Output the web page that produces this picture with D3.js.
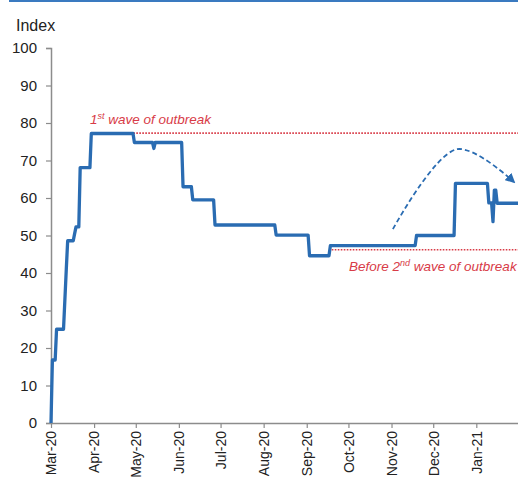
<!DOCTYPE html>
<html>
<head>
<meta charset="utf-8">
<script src="https://cdn.jsdelivr.net/npm/d3@7"></script>
<style>
  html, body { margin: 0; padding: 0; background: #fff; }
  svg { display: block; font-family: "Liberation Sans", Arial, sans-serif; }
</style>
</head>
<body>
<svg id="chart" width="518" height="483"></svg>
<script>
// Stringency index: dates where the daily level changes, and the level from that date on
const dates = [
  "2020-03-01","2020-03-02","2020-03-05","2020-03-11","2020-03-12","2020-03-13","2020-03-14",
  "2020-03-18","2020-03-19","2020-03-22","2020-03-30","2020-04-30","2020-05-14","2020-05-15",
  "2020-06-04","2020-06-11","2020-06-27","2020-08-10","2020-09-03","2020-09-18","2020-11-19",
  "2020-12-17","2021-01-10","2021-01-13","2021-01-14","2021-01-16","2021-01-31"
];
const values = [
  0, 16.8, 25.0, 33.0, 41.0, 48.6, 48.6,
  50.5, 52.3, 68.1, 77.2, 74.8, 73.2, 74.8,
  63.0, 59.5, 52.8, 50.1, 44.6, 47.3, 50.0,
  63.9, 58.7, 53.7, 62.1, 58.6, 58.6
];

// Reference levels
const firstWaveLevel = 77.3;
const firstWaveLabel = ["1", "st", " wave of outbreak"];
const secondWaveLevel = 46.2;
const secondWaveLabel = ["Before 2", "nd", " wave of outbreak"];
const firstWaveStart = "2020-03-30";
const secondWaveStart = "2020-09-19";

// Axis ticks
const yTicks = [0, 10, 20, 30, 40, 50, 60, 70, 80, 90, 100];
const xTickDates = ["2020-03-01","2020-04-01","2020-05-01","2020-06-01","2020-07-01","2020-08-01",
                    "2020-09-01","2020-10-01","2020-11-01","2020-12-01","2021-01-01"];

// Trend arrow: start, crest, end (date, index level)
const arrowDates = ["2020-11-02", "2020-12-18", "2021-01-28"];
const arrowValues = [51.7, 73.0, 64.3];

const parse = d3.timeParse("%Y-%m-%d");
const fmt = d3.timeFormat("%b-%y");

// Expand the change points into a daily path: a level holds until the day
// before the next change, then moves to the new level over one day.
const series = [];
dates.forEach((d, i) => {
  const date = parse(d);
  if (i > 0) {
    const dayBefore = d3.timeDay.offset(date, -1);
    if (dayBefore > series[series.length - 1].date) {
      series.push({ date: dayBefore, value: values[i - 1] });
    }
  }
  series.push({ date, value: values[i] });
});

const svg = d3.select("#chart");
const W = 518, H = 483;
const margin = { top: 48, right: 0, bottom: 60, left: 51 };

const x = d3.scaleTime()
  .domain([parse("2020-03-01"), parse("2021-01-31")])
  .range([margin.left, W - margin.right]);
const y = d3.scaleLinear()
  .domain([0, 100])
  .range([H - margin.bottom, margin.top]);

const blue = "#2a6cb2";
const red = "#d83b47";
const axisGrey = "#8c8c8c";

// Top rule
svg.append("rect").attr("x", 9).attr("y", 0).attr("width", W - 9).attr("height", 2).attr("fill", "#3a7ac0");

// Y axis
const yAxis = svg.append("g")
  .attr("transform", `translate(${margin.left},0)`)
  .call(d3.axisLeft(y).tickValues(yTicks).tickSize(5).tickPadding(9));
yAxis.select(".domain").attr("stroke", axisGrey).attr("stroke-width", 1.5);
yAxis.selectAll(".tick line").attr("stroke", axisGrey).attr("stroke-width", 1.2);
yAxis.selectAll(".tick text").attr("font-size", 15).attr("fill", "#222")
  .attr("font-family", "Liberation Sans, Arial, sans-serif");

// X axis
const xAxis = svg.append("g")
  .attr("transform", `translate(0,${H - margin.bottom})`)
  .call(d3.axisBottom(x).tickValues(xTickDates.map(parse)).tickFormat(fmt).tickSize(5).tickSizeOuter(0));
xAxis.select(".domain").attr("stroke", axisGrey).attr("stroke-width", 1.5);
xAxis.selectAll(".tick line").attr("stroke", axisGrey).attr("stroke-width", 1.2);
xAxis.selectAll(".tick text")
  .attr("font-size", 14).attr("fill", "#222")
  .attr("font-family", "Liberation Sans, Arial, sans-serif")
  .attr("transform", "rotate(-90)")
  .attr("text-anchor", "end")
  .attr("x", -8).attr("y", 0).attr("dy", "0.35em");

// Axis title
svg.append("text").attr("x", 16).attr("y", 31).attr("font-size", 16).attr("fill", "#222").text("Index");

// Reference lines
svg.append("line")
  .attr("x1", x(parse(firstWaveStart))).attr("x2", W)
  .attr("y1", y(firstWaveLevel)).attr("y2", y(firstWaveLevel))
  .attr("stroke", red).attr("stroke-width", 1.6).attr("stroke-dasharray", "1.6,1.4");
svg.append("line")
  .attr("x1", x(parse(secondWaveStart))).attr("x2", W)
  .attr("y1", y(secondWaveLevel)).attr("y2", y(secondWaveLevel))
  .attr("stroke", red).attr("stroke-width", 1.6).attr("stroke-dasharray", "1.6,1.4");

function supLabel(tx, ty, parts) {
  const t = svg.append("text").attr("x", tx).attr("y", ty)
    .attr("font-size", 13.5).attr("font-style", "italic").attr("fill", red);
  t.append("tspan").text(parts[0]);
  t.append("tspan").attr("font-size", 9).attr("dy", -5).text(parts[1]);
  t.append("tspan").attr("dy", 5).text(parts[2]);
}
supLabel(90, 124, firstWaveLabel);
supLabel(349, 271, secondWaveLabel);

// Index line
const line = d3.line()
  .x(d => x(d.date)).y(d => y(d.value))
  .curve(d3.curveLinear);
svg.append("path").datum(series)
  .attr("d", line)
  .attr("fill", "none").attr("stroke", blue).attr("stroke-width", 3.3)
  .attr("stroke-linejoin", "round");

// Trend arrow
const arrowPts = arrowDates.map((d, i) => [x(parse(d)), y(arrowValues[i])]);
svg.append("defs").append("marker")
  .attr("id", "arrowhead").attr("viewBox", "0 0 10 10")
  .attr("refX", 8).attr("refY", 5).attr("markerWidth", 5.5).attr("markerHeight", 5.5)
  .attr("orient", "auto")
  .append("path").attr("d", "M0,0 L10,5 L0,10 Z").attr("fill", blue);
svg.append("path")
  .attr("d", d3.line().curve(d3.curveCatmullRom.alpha(0.5))(arrowPts))
  .attr("fill", "none").attr("stroke", blue).attr("stroke-width", 1.8)
  .attr("stroke-dasharray", "5,3")
  .attr("marker-end", "url(#arrowhead)");
</script>
</body>
</html>
